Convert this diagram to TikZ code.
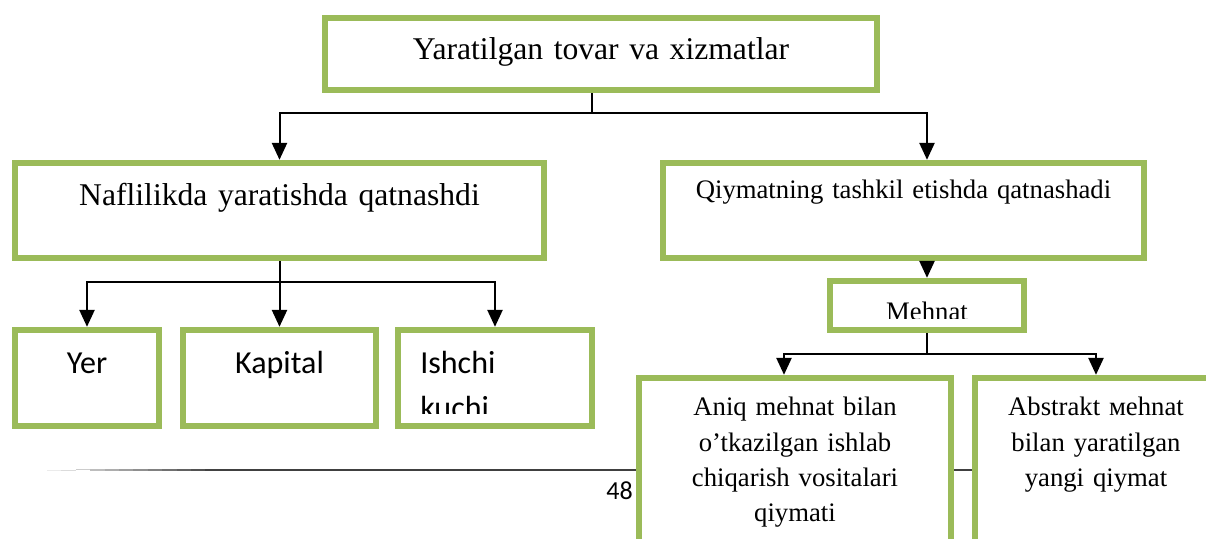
\documentclass[tikz,border=0pt]{standalone}
\usepackage{fontspec}
\setmainfont{Liberation Serif}
\newfontfamily\calibri{Carlito}
\usetikzlibrary{arrows.meta}
\usetikzlibrary{calc}
\usepackage{xcolor}
\definecolor{boxgreen}{HTML}{9BBB59}

\tikzset{
  box/.style={draw=boxgreen,line width=0.16cm,fill=white,inner sep=0pt,align=center},
  bigtext/.style={font=\fontsize{22.5}{27}\selectfont},
  smalltext/.style={font=\fontsize{19}{24.9}\selectfont},
  sanstext/.style={font=\calibri\fontsize{22.8}{31.3}\selectfont},
  link/.style={line width=0.05cm},
  arrow/.style={link,-{Triangle[width=0.375cm,length=0.42cm]}},
}

\begin{document}
\begin{tikzpicture}[scale=1]
    \useasboundingbox (0,0) rectangle (30.15,13.475);

    % page footer
    \foreach \i in {0,...,11} {
      \pgfmathsetmacro\shadeval{8+6*\i}
      \draw[black!\shadeval,line width={0.02cm+0.0025cm*\i}] ({1.175+0.36*\i},1.725) -- ({1.55+0.36*\i},1.725);
    }
    \draw[black!75,line width=0.05cm] (5.5,1.725) -- (24.375,1.725);
    \node[font=\calibri\fontsize{18.5}{22}\selectfont,anchor=base] (page) at (15.4875,0.975) {48};

    % boxes
    \node[box,bigtext,text width=13.8cm,text height=1.05cm,text depth=0.75cm] (top) at (15.025,12.125) {Yaratilgan tovar va xizmatlar};
    \node[box,bigtext,text width=13.225cm,text height=1.075cm,text depth=1.3cm] (nafl) at (6.9875,8.2125) {Naflilikda yaratishda qatnashdi};
    \node[box,smalltext,text width=12.025cm,text height=0.9cm,text depth=1.475cm] (qiym) at (22.5875,8.2125) {Qiymatning tashkil etishda qatnashadi};

    \node[box,sanstext,text width=3.6cm,text height=1.1cm,text depth=1.3cm] (yer) at (2.175,4.025) {Yer};
    \node[box,sanstext,text width=4.825cm,text height=1.1cm,text depth=1.3cm] (kapital) at (6.9875,4.025) {Kapital};
    \node[box,minimum width=4.85cm,minimum height=2.4cm] (ishchi) at (12.375,4.025) {};
    \begin{scope}
      \clip (10.075,5.125) rectangle (14.75,3.125);
      \node[sanstext,anchor=base west,inner sep=0pt,text width=4cm,align=left] (ishchi-t) at (10.5,4.125) {Ishchi\\kuchi};
    \end{scope}

    \node[box,minimum width=4.85cm,minimum height=1.225cm] (mehnat) at (23.175,5.8375) {};
    \begin{scope}
      \clip (20.875,6.325) rectangle (25.5,5.5);
      \node[smalltext,anchor=base,inner sep=0pt] (mehnat-t) at (23.175,5.45) {Mehnat};
    \end{scope}

    \node[box,smalltext,text width=7.8cm,text height=0.95cm,text depth=4.05cm] (aniq) at (19.875,1.525) {Aniq mehnat bilan\\o’tkazilgan ishlab\\chiqarish vositalari\\qiymati};
    \node[box,smalltext,text width=6.05cm,text height=0.95cm,text depth=4.05cm] (abstr) at (27.4,1.525) {Abstrakt мehnat\\bilan yaratilgan\\yangi qiymat};

    % connectors
    \coordinate (j1) at (14.8,10.65);
    \draw[link] (top.south -| j1) -- (j1);
    \draw[arrow] (j1) -| (nafl.north);
    \draw[arrow] (j1) -| (qiym.north -| mehnat.north);

    \coordinate (j2) at (6.9875,6.425);
    \draw[arrow] (nafl.south) -- (kapital.north);
    \draw[arrow] (j2) -| (yer.north);
    \draw[arrow] (j2) -| (ishchi.north);

    \draw[arrow] (mehnat.north |- qiym.south) -- (mehnat.north);
    \coordinate (j3) at (23.175,4.625);
    \draw[link] (mehnat.south) -- (j3);
    \draw[arrow] (j3) -| ([xshift=-2.75mm]aniq.north);
    \draw[arrow] (j3) -| (abstr.north);
\end{tikzpicture}
\end{document}
